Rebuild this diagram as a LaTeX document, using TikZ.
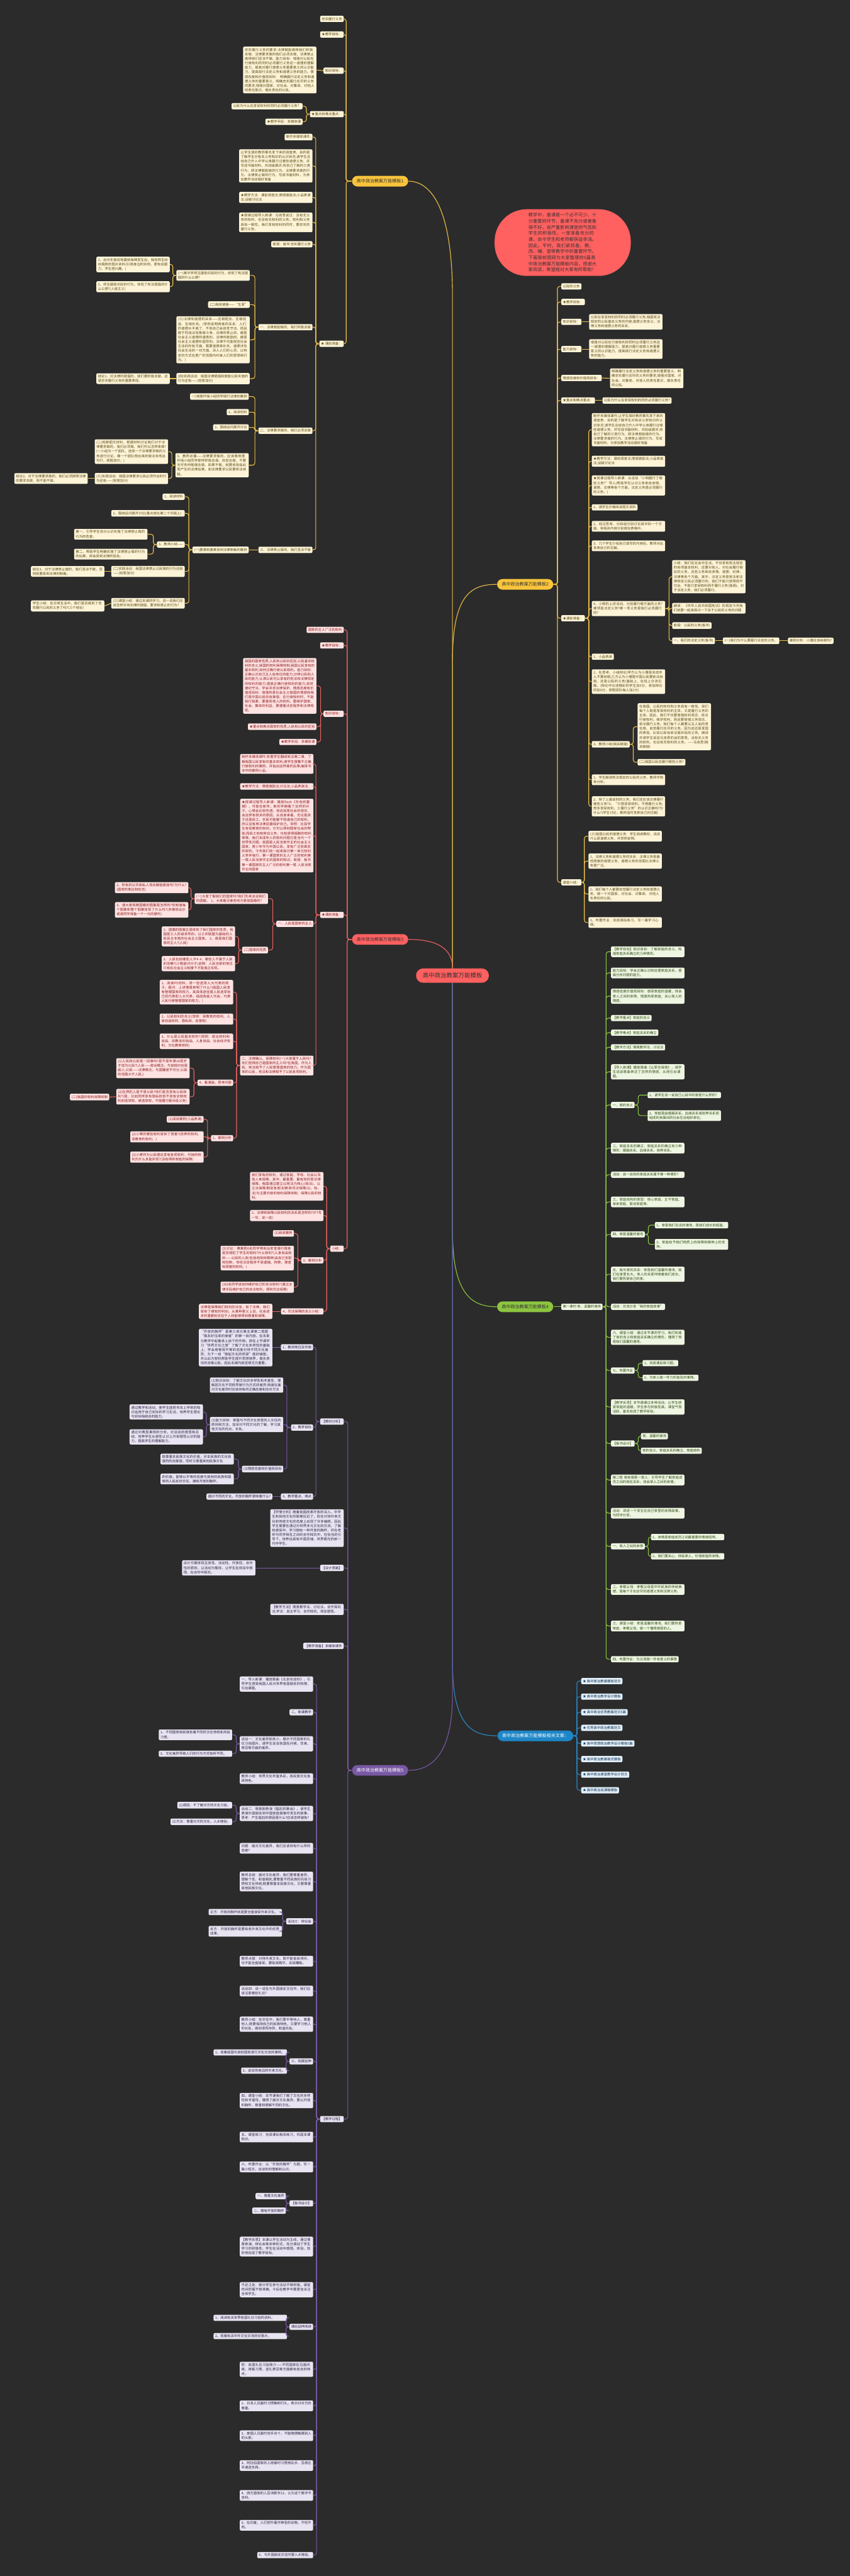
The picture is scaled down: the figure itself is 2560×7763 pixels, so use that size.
\documentclass[tikz,border=0pt]{standalone}
\usepackage{fontspec}
\setmainfont{Noto Sans CJK SC}
\XeTeXlinebreaklocale "zh"
\XeTeXlinebreakskip=0pt plus 0.5pt
\usetikzlibrary{positioning}
\definecolor{bg}{HTML}{2B2B2B}
\definecolor{ylm}{HTML}{F8C43C}\definecolor{ylf}{HTML}{FDF4D8}\definecolor{ylt}{HTML}{5A4712}\definecolor{yline}{HTML}{E9BE45}
\definecolor{rdm}{HTML}{FF6060}\definecolor{rdf}{HTML}{FFE3E3}\definecolor{rdt}{HTML}{8A1C1C}\definecolor{rline}{HTML}{EC6161}
\definecolor{gnm}{HTML}{8CC540}\definecolor{gnf}{HTML}{EEF5E2}\definecolor{gnt}{HTML}{2F4A12}\definecolor{gline}{HTML}{8CC540}
\definecolor{ppm}{HTML}{7858A4}\definecolor{ppf}{HTML}{E8E4F1}\definecolor{ppt}{HTML}{2E2244}\definecolor{pline}{HTML}{7A5AA6}
\definecolor{blm}{HTML}{1D86C7}\definecolor{blf}{HTML}{E2EFF9}\definecolor{blt}{HTML}{12324F}\definecolor{bline}{HTML}{2A88C6}
\tikzset{
  leaf/.style={rounded corners=1.1pt, inner xsep=1.4pt, inner ysep=1.3pt, font=\fontsize{2.9}{3.85}\selectfont, align=left},
  wide/.style={text width=2.11cm},
  ly/.style={leaf, fill=ylf, text=ylt},
  lr/.style={leaf, fill=rdf, text=rdt},
  lg/.style={leaf, fill=gnf, text=gnt},
  lp/.style={leaf, fill=ppf, text=ppt},
  lb/.style={leaf, fill=blf, text=blt},
  main/.style={rounded corners=0.16cm, minimum height=0.32cm, inner xsep=0.14cm, inner ysep=0pt, font=\fontsize{3.8}{4.5}\selectfont},
  yl/.style={draw=yline, line width=0.6pt, rounded corners=2pt},
  rl/.style={draw=rline, line width=0.6pt, rounded corners=2pt},
  gl/.style={draw=gline, line width=0.6pt, rounded corners=2pt},
  pl/.style={draw=pline, line width=0.6pt, rounded corners=2pt},
  bl/.style={draw=bline, line width=0.6pt, rounded corners=2pt}
}
\begin{document}
\begin{tikzpicture}[x=0.01cm, y=-0.01cm]
  \useasboundingbox (0,0) rectangle (2560,7763);
  \fill[bg] (0,0) rectangle (2560,7763);

  % centre and intro
  \node[rounded corners=0.21cm, minimum height=0.43cm, inner xsep=0.2cm, fill=rdm, text=black!80, font=\fontsize{5.1}{6}\selectfont] (ctr) at (1363,2940) {高中政治教案万能模板};
  \node[rounded corners=0.97cm, minimum height=1.96cm, minimum width=4.1cm, inner xsep=1cm, fill=rdm, text=black!80, font=\fontsize{3.87}{5.2}\selectfont, text width=2.06cm, align=left] (intro) at (1695,731) {教学中，备课是一个必不可少、十分重要的环节，备课不充分或者备得不好，会严重影响课堂的气氛和学生的积极性，一堂准备充分的课，会令学生和老师都获益非浅。因此，平时，我们紧抓备、教、改、辅、查等教学中的重要环节。下面是树图网为大家整理的5篇高中政治教案万能模板内容，感谢大家阅读，希望能对大家有所帮助！};

  % main branches
  \node[main, fill=ylm, text=black!80] (m1) at (1145,546) {高中政治教案万能模板1};
  \node[main, fill=ylm, text=black!80] (m2) at (1582,1761) {高中政治教案万能模板2};
  \node[main, fill=rdm, text=black!80] (m3) at (1145,2831) {高中政治教案万能模板3};
  \node[main, fill=gnm, text=black!80] (m4) at (1582,3938) {高中政治教案万能模板4};
  \node[main, fill=ppm, text=white] (m5) at (1145,5335) {高中政治教案万能模板5};
  \node[main, fill=blm, text=white] (m6) at (1613,5231) {高中政治教案万能模板相关文章：};

  \draw[yl] (ctr.north) -- (1363,900) .. controls (1363,610) and (1290,546) .. (m1.east);
  \draw[yl] (ctr.north) -- (1363,2000) .. controls (1363,1790) and (1420,1761) .. (m2.west);
  \draw[rl] (m3.east) .. controls (1320,2831) and (1363,2860) .. (ctr.north);
  \draw[gl] (ctr.south) -- (1363,3700) .. controls (1363,3900) and (1420,3938) .. (m4.west);
  \draw[bl] (ctr.south) -- (1363,5000) .. controls (1363,5200) and (1420,5231) .. (m6.west);
  \draw[pl] (ctr.south) -- (1363,5100) .. controls (1363,5300) and (1290,5335) .. (m5.east);

  % ---- template 1 (left)
  \node[ly, anchor=east] (a1) at (1036,57) {忠实履行义务};
  \node[ly, anchor=east] (a2) at (1036,104) {★教学目标：};
  \node[ly, anchor=east] (a3) at (1036,213) {知识目标：};
  \node[ly, anchor=east] (a4) at (1036,344) {★重点和难点重点：};
  \node[ly, anchor=east] (a5) at (1036,1036) {★ 课前准备：};
  \foreach \c in {a1,a2,a3,a4,a5} \draw[yl] (m1.west) -- ++(-17,0) |- (\c.east);

  \node[ly, wide, anchor=east] (a3x) at (954,211) {忠实履行义务的要求:法律鼓励做得我们积极去做，法律要求做的我们必须去做，法律禁止做得我们坚决不做。能力目标：增强对公民在行使权利的同时必须履行义务这一道理的理解能力，提高对履行道德义务重要意义的认识能力，提高践行法定义务和道德义务的能力。情感态度和价值观目标： 明确履行法定义务和道德义务的重要意义，明确忠实履行应尽的义务的要求;增强对国家、对社会、对集体、对他人的责任意识，做负责任的公民。};
  \draw[yl] (a3.west) -- (a3x.east);
  \node[ly, anchor=east] (a4x) at (912,320) {公民为什么在享受权利的同时必须履行义务？};
  \node[ly, anchor=east] (a4y) at (912,367) {★教学手段：多媒体课};
  \foreach \c in {a4x,a4y} \draw[yl] (a4.west) -- ++(-10,0) |- (\c.east);

  \node[ly, anchor=east] (a5a) at (942,413) {制作多媒体课件;};
  \node[ly, wide, anchor=east] (a5b) at (942,500) {让学生填好教师事先发下来的调查表，目的是了解学生对有关义务知识的认识状况;请学生总结自己升入中学以来履行过哪些道德义务，并写成书面材料，共班级展评;将自己了解的三类行为，即法律鼓励做的行为、法律要求做的行为、法律禁止做的行为，写成书面材料，为参加教学活动做好准备};
  \node[ly, wide, anchor=east] (a5c) at (942,595) {★教学方法：课前调查法;情感激励法;小品表演法;设疑讨论法};
  \node[ly, wide, anchor=east] (a5d) at (942,670) {★授课过程导入新课：马克思说过：没有无义务的权利，也没有无权利的义务。权利和义务具有一致性。我们享有权利的同时，要忠实的履行义务。};
  \node[ly, anchor=east] (a5e) at (942,736) {新授：板书 忠实履行义务};
  \node[ly, anchor=east] (a5f) at (942,986) {一、法律鼓励做的，我们积极去做};
  \node[ly, anchor=east] (a5g) at (942,1298) {二、法律要求做的，我们必须去做};
  \node[ly, anchor=east] (a5h) at (942,1657) {三、法律禁止做的，我们坚决不做};
  \foreach \c in {a5a,a5b,a5c,a5d,a5e,a5f,a5g,a5h} \draw[yl] (a5.west) -- ++(-10,0) |- (\c.east);

  \node[ly, wide, anchor=east] (f1) at (753,830) {(一)某中学师生援助灾民的行为，体现了宪法提倡的什么公德?};
  \node[ly, anchor=east] (f2) at (753,918) {(二)相关链接——“五爱”};
  \node[ly, wide, anchor=east] (f3) at (753,1024) {(三)法律和道德的关系——互相配合、互相促进、互相补充。(举例说明两者的关系：人们的道德水平高了，不但自己会自觉守法，而且敢于同违法现象做斗争。法律所禁止的，都是社会主义道德所谴责的，法律所鼓励的，都是社会主义道德所倡导的。法律不可能规范社会生活的所有方面，需要道德来补充，道德涉及社会生活的一切方面，深入人们的心灵，以特定的方式在更广的范围内约束人们的思想和行为。)};
  \node[ly, wide, anchor=east] (f4) at (753,1141) {(四)实践活动：我国法律提倡和鼓励公民实施的行为还有——(抢答加分)};
  \foreach \c in {f1,f2,f3,f4} \draw[yl] (a5f.west) -- ++(-10,0) |- (\c.east);
  \node[ly, wide, anchor=east] (f1a) at (512,797) {1、出示东南亚地震和海啸发生后，我校师生纷纷捐款的图片资料(引用身边的实例，更有说服力，学生感兴趣。)};
  \node[ly, wide, anchor=east] (f1b) at (512,864) {2、师生援助灾民的行为，体现了宪法提倡的什么公德?(人道主义)};
  \foreach \c in {f1a,f1b} \draw[yl] (f1.west) -- ++(-10,0) |- (\c.east);
  \node[ly, wide, anchor=east] (f4a) at (512,1141) {结论1、对法律所提倡的，我们要积极去做，这是忠实履行义务的重要表现。};
  \draw[yl] (f4.west) -- (f4a.east);

  \node[ly, anchor=east] (g1) at (750,1195) {一)地理环保小组同学践行法律的案例};
  \node[ly, anchor=east] (g2) at (750,1242) {1、阅读材料};
  \node[ly, anchor=east] (g3) at (750,1288) {2、围绕设问展开讨论};
  \node[ly, wide, anchor=east] (g4) at (750,1402) {3、教师点播——法律要求做的，应该像地理环保小组同学那样积极去做，自觉去做，不要无可奈何勉强去做。如果不做，就要承担由此而产生的法律后果。如法律要求公民要依法纳税。};
  \foreach \c in {g1,g2,g3,g4} \draw[yl] (a5g.west) -- ++(-10,0) |- (\c.east);
  \node[ly, wide, anchor=east] (g4a) at (507,1361) {(二)观察图文材料，根据材料讨论我们对于法律要求做的，我们必须做，我们可以怎样来做?(一小组为一个团队，选择一个法律要求做的义务进行讨论，哪一个团队想出来的做法多而且可行，获胜加分。)};
  \node[ly, wide, anchor=east] (g4b) at (507,1442) {(三)实践活动：我国法律要求公民必须作出的行为还有——(抢答加分)};
  \foreach \c in {g4a,g4b} \draw[yl] (g4.west) -- ++(-10,0) |- (\c.east);
  \node[ly, wide, anchor=east] (g4c) at (265,1442) {结论2、对于法律要求做的，我们必须按照法律的要求去做，而不能不做。};
  \draw[yl] (g4b.west) -- (g4c.east);

  \node[ly, anchor=east] (h1) at (750,1657) {(一)要某和姜某受到法律制裁的案例};
  \draw[yl] (a5h.west) -- (h1.east);
  \node[ly, anchor=east] (h1a) at (557,1497) {1、阅读材料};
  \node[ly, wide, anchor=east] (h1b) at (557,1547) {2、围绕设问展开讨论(重点放在第二个问题上)};
  \node[ly, anchor=east] (h1c) at (557,1641) {3、教师小结——};
  \node[ly, wide, anchor=east] (h1d) at (557,1722) {(二)实践活动：我国法律禁止公民做的行为还有——(抢答加分)};
  \node[ly, wide, anchor=east] (h1e) at (557,1818) {(三)课堂小结：通过本课的学习，说一说我们应该怎样对待法律所提倡、要求和禁止的行为?};
  \foreach \c in {h1a,h1b,h1c,h1d,h1e} \draw[yl] (h1.west) -- ++(-10,0) |- (\c.east);
  \node[ly, wide, anchor=east] (h1c1) at (445,1610) {第一，引导学生充分认识实施了法律禁止做的行为的危害。};
  \node[ly, wide, anchor=east] (h1c2) at (445,1670) {第二，帮助学生明确实施了法律禁止做的行为的后果，即会受到法律的惩处。};
  \foreach \c in {h1c1,h1c2} \draw[yl] (h1c.west) -- ++(-10,0) |- (\c.east);
  \node[ly, wide, anchor=east] (h1d1) at (315,1722) {结论3、对于法律禁止做的，我们坚决不做，否则就要受到法律的制裁。};
  \draw[yl] (h1d.west) -- (h1d1.east);
  \node[ly, wide, anchor=east] (h1e1) at (315,1826) {学生小结：在日常生活中，我们是否做到了忠实履行公民的义务了吗?(三个结论)};
  \draw[yl] (h1e.west) -- (h1e1.east);

  % ---- template 2 (right)
  \node[ly, anchor=west] (b1) at (1690,863) {公民的义务};
  \node[ly, anchor=west] (b2) at (1690,910) {★教学目标：};
  \node[ly, anchor=west] (b3) at (1690,970) {知识目标：};
  \node[ly, anchor=west] (b4) at (1690,1052) {能力目标：};
  \node[ly, anchor=west] (b5) at (1690,1139) {情感态度和价值观目标：};
  \node[ly, anchor=west] (b6) at (1690,1207) {★重点和难点重点：};
  \node[ly, anchor=west] (b7) at (1690,1863) {★课前准备：};
  \node[ly, anchor=west] (b8) at (1690,2659) {课堂小结：};
  \foreach \c in {b1,b2,b3,b4,b5,b6,b7,b8} \draw[yl] (m2.east) -- ++(12,0) |- (\c.west);
  \node[ly, wide, anchor=west] (b3x) at (1774,970) {公民在享受权利的同时必须履行义务;我国宪法规定的公民基本义务的内容;道德义务含义，法律义务和道德义务的关系;};
  \node[ly, wide, anchor=west] (b4x) at (1774,1052) {增强对公民在行使权利的同时必须履行义务这一道理的理解能力，提高对履行道德义务重要意义的认识能力，提高践行法定义务和道德义务的能力。};
  \node[ly, wide, anchor=west] (b5x) at (1837,1140) {明确履行法定义务和道德义务的重要意义，明确忠实履行应尽的义务的要求;增强对国家、对社会、对集体、对他人的责任意识，做负责任的公民。};
  \node[ly, anchor=west] (b6x) at (1814,1207) {公民为什么在享受权利的同时必须履行义务?};
  \foreach \p in {b3,b4,b5,b6} \draw[yl] (\p.east) -- (\p x.west);

  \node[ly, wide, anchor=west] (k1) at (1782,1295) {制作多媒体课件;让学生填好教师事先发下来的调查表，目的是了解学生对有关义务知识的认识状况;请学生总结自己升入中学以来履行过哪些道德义务，并写成书面材料，共班级展评;将自己了解的三类行为，即法律鼓励做的行为、法律要求做的行为、法律禁止做的行为，写成书面材料，为参加教学活动做好准备};
  \node[ly, wide, anchor=west] (k2) at (1782,1390) {★教学方法：课前调查法;情感激励法;小品表演法;设疑讨论法};
  \node[ly, wide, anchor=west] (k3) at (1782,1463) {★授课过程导入新课：从活动“小明履行了哪些义务?”导入(帮助学生认识义务来自亲情、道德、法律等各个方面，法定义务是必须履行的义务。)};
  \node[ly, anchor=west] (k4) at (1782,1529) {1、请学生仔细阅读图文资料};
  \node[ly, wide, anchor=west] (k5) at (1782,1586) {2、经过思考，分四组分别讨论其中的一个方面，将相关内容分别填在表格中。};
  \node[ly, wide, anchor=west] (k6) at (1782,1645) {3、几个学生介绍自己填写的内容后，教师对此发表自己的见解。};
  \node[ly, wide, anchor=west] (k7) at (1782,1834) {4、小明的上述活动，分别履行哪方面的义务?哪项是法定义务?哪一项义务是我们必须履行的?};
  \node[ly, anchor=west] (k8) at (1782,1979) {1、小品表演};
  \node[ly, wide, anchor=west] (k9) at (1782,2054) {2、在思考，小组辩论(甲方认为小珊是未成年人不要纳税;乙方认为小珊是中国公民要依法纳税，这是公民的义务)基础上，在班上交流见解。(辩论中论述精彩的学生加5分，参加辩论的加3分，获胜团队每人加1分)};
  \node[ly, anchor=west] (k10) at (1782,2243) {3、教师小结(相关链接)};
  \node[ly, wide, anchor=west] (k11) at (1782,2350) {1、学生朗读宪法规定的公民的义务，教师作简单分析。};
  \node[ly, wide, anchor=west] (k12) at (1782,2430) {2、除了上面谈到的义务，我们还应该法律履行哪些义务?3、“只想享受权利，不想履行义务;想多享受权利，少履行义务”的认识正确吗?为什么?(学生讨论，教师适时发表自己的见解)};
  \foreach \c in {k1,k2,k3,k4,k5,k6,k7,k8,k9,k10,k11,k12} \draw[yl] (b7.east) -- ++(11,0) |- (\c.west);

  \node[ly, wide, anchor=west] (k7a) at (2024,1738) {小结：我们在社会中生活，不仅享有宪法规定的各项基本权利，还要对他人、对社会履行相应的义务。这些义务来自亲情、道德、纪律、法律等各个方面。其中，法定义务是宪法和法律规定公民必须履行的。我们不能只获得而不付出，不能只享受权利而不履行义务(强调)。对于法定义务，我们必须履行。};
  \node[ly, wide, anchor=west] (k7b) at (2024,1833) {朗读：《中华人民共和国宪法》的规定今天我们就要一起来探讨一下关于公民的义务的问题};
  \node[ly, anchor=west] (k7c) at (2024,1885) {新授：公民的义务(板书)};
  \node[ly, anchor=west] (k7d) at (2024,1931) {一、我们的法定义务(板书)};
  \foreach \c in {k7a,k7b,k7c,k7d} \draw[yl] (k7.east) -- ++(11,0) |- (\c.west);
  \node[ly, anchor=west] (k7e) at (2177,1931) {(一)我们为什么要履行法定的义务。};
  \node[ly, anchor=west] (k7f) at (2373,1931) {案例分析：小珊应该纳税吗?};
  \draw[yl] (k7d.east) -- (k7e.west);
  \draw[yl] (k7e.east) -- (k7f.west);

  \node[ly, wide, anchor=west] (k10a) at (1920,2190) {在我国，公民的权利和义务具有一致性。我们每个人既是享受权利的主体，又是履行义务的主体。因此，我们不仅要增强权利观念，依法行使权利，维护权利，而且要增强义务观念，依法履行义务。我们每个人都要以主人翁的责任感，自觉履行应尽的义务。因为这还是爱国的表现。比如公民有依法服兵役的义务。朗读并请学生说说马克思的话的意思。没有无义务的权利，也没有无权利的义务。——马克思(相关链接)};
  \node[ly, anchor=west] (k10b) at (1920,2297) {(二)我国公民应履行哪些义务?};
  \foreach \c in {k10a,k10b} \draw[yl] (k10.east) -- ++(10,0) |- (\c.west);

  \node[ly, wide, anchor=west] (b8a) at (1772,2520) {(三)我国公民的道德义务：学生阅读教材，说说什么是道德义务，并举例说明。};
  \node[ly, wide, anchor=west] (b8b) at (1772,2595) {1、法律义务和道德义务的关系：法律义务是最低限度的道德义务，道德义务的范围比法律义务更广泛。};
  \node[ly, wide, anchor=west] (b8c) at (1772,2694) {2、我们每个人都要自觉履行法定义务和道德义务，做一个对国家、对社会、对集体、对他人负责任的公民。};
  \node[ly, wide, anchor=west] (b8d) at (1772,2780) {3、布置作业：完成课后练习，写一篇学习心得。};
  \foreach \c in {b8a,b8b,b8c,b8d} \draw[yl] (b8.east) -- ++(8,0) |- (\c.west);

  % ---- template 3 (left)
  \node[lr, anchor=east] (c1) at (1036,1898) {国家的主人广泛的权利};
  \node[lr, anchor=east] (c2) at (1036,1945) {★教学目标：};
  \node[lr, anchor=east] (c3) at (1036,2151) {知识目标：};
  \node[lr, anchor=east] (c4) at (1036,2757) {★课前准备：};
  \node[lr, anchor=east] (c5) at (1036,3763) {小结：};
  \foreach \c in {c1,c2,c3,c4,c5} \draw[rl] (m3.west) -- ++(-14,0) |- (\c.east);

  \node[lr, wide, anchor=east] (c3a) at (954,2067) {我国的国家性质;人民和公民的区别;公民基本权利的含义;我国的权利保障体制;我国公民享有的基本权利;如何正确行使公民权利。能力目标：正确认识自己主人翁地位的能力;分辨公民和人民的能力;认清公民可以享有的宪法和法律规定的权利的能力;提高正确行使权利的能力;自觉遵纪守法，学会寻求法律保护。情感态度和价值观目标：增强热爱社会主义祖国的情感和我们是中国公民的自豪感。在行使权利时，不能我行我素，要重视他人的权利，要维护国家、社会、集体的利益，要遵循法定程序和法律规定。};
  \node[lr, anchor=east] (c3b) at (954,2190) {★重点和难点国家的性质;人民和公民的区别};
  \node[lr, anchor=east] (c3c) at (954,2236) {★教学手段：多媒体课};
  \foreach \c in {c3a,c3b,c3c} \draw[rl] (c3.west) -- ++(-8,0) |- (\c.east);

  \node[lr, wide, anchor=east] (c4a) at (945,2302) {制作多媒体课件;布置学生翻阅宪法第二章，了解我国公民享有的基本权利;请学生搜集不正确行使权利的案例，并指出这样做的后果;编排书本中的案例小品。};
  \node[lr, wide, anchor=east] (c4b) at (945,2370) {★教学方法：情感激励法;讨论法;小品表演法;};
  \node[lr, wide, anchor=east] (c4c) at (945,2518) {★授课过程导入新课：播放flash《灰色的震撼》，可能在新年，新的学期看了这样的片子，心情会比较伤感，但这就是社会的现实，会这样有很多的原因，从自身来看，无论是孩子还是民工、农民可能都不知道自己的权利，所以没有用法律武器保护自己。举例：比如学生有受教育的权利，它可以得到国家社会的帮助;而民工他有劳动义务，也有获得报酬的权利等等。我们未成年人的权利问题已是当代一个世界性问题。我国是人民当家作主的社会主义国家，青少年作为中国公民，享有广泛而真实的权利。今天我们就一起来探讨第一单元权利义务伴我行，第一课国家的主人广泛的权利第一框人民当家作主的国家的知识。新授：板书第一课国家的主人广泛的权利第一框 人民当家作主的国家};
  \node[lr, anchor=east] (c4d) at (945,2784) {一、人民是国家的主人};
  \node[lr, wide, anchor=east] (c4e) at (945,3211) {二、法律确认、保障权利(一)大家属于人民吗?你们觉得自己是国家的主人吗?在我国，作为人民，宪法赋予了人民管理国家的权力。作为国家的公民，宪法和法律赋予了公民各项权利。};
  \foreach \c in {c4a,c4b,c4c,c4d,c4e} \draw[rl] (c4.west) -- ++(-12,0) |- (\c.east);

  \node[lr, wide, anchor=east] (d1) at (808,2708) {(一)大家了解我们的国家吗?我们先来谈谈我们的国徽。 1、大家看见哪些地方悬挂国徽的?};
  \node[lr, anchor=east] (d2) at (808,2863) {(二)国家的性质};
  \foreach \c in {d1,d2} \draw[rl] (c4d.west) -- ++(-10,0) |- (\c.east);
  \node[lr, wide, anchor=east] (d1a) at (568,2675) {2、所有的公共和私人场合都能悬挂吗?为什么?(国家的象征和标志)};
  \node[lr, wide, anchor=east] (d1b) at (568,2742) {3、请大家观察国徽的图案是怎样的?你知道每个图案和整个图案体现了什么吗?(多媒体出示或请同学准备一个一元的硬币)};
  \foreach \c in {d1a,d1b} \draw[rl] (d1.west) -- ++(-10,0) |- (\c.east);
  \node[lr, wide, anchor=east] (d2a) at (709,2822) {1、国徽的图案正是体现了我们国家的性质，我国是工人阶级领导的，以工农联盟为基础的人民民主专政的社会主义国家。 2、谁是我们国家的主人?(人民)};
  \node[lr, wide, anchor=east] (d2b) at (709,2904) {3、人民包括哪些人?P4 4、哪些人不属于人民的范畴?(少数敌对分子)说明：人民当家的地位只有在社会主义制度下才能真正实现。};
  \foreach \c in {d2a,d2b} \draw[rl] (d2.west) -- ++(-10,0) |- (\c.east);

  \node[lr, wide, anchor=east] (e1) at (703,2990) {1、阅读P5材料，举一些选举人大代表的例子。提问：上述情景表明了什么?(我国人民享有管理国家的权力，其具体途径是人民选举自己的代表即人大代表，组成各级人代会，代表人民行使管理国家的权力。)};
  \node[lr, wide, anchor=east] (e2) at (703,3071) {2、公民权利的含义(举例：受教育的权利、人身自由权利、隐私权、名誉权)};
  \node[lr, wide, anchor=east] (e3) at (703,3138) {3、什么是公民基本权利?(举例：政治权利和自由、宗教信仰自由、人身自由、社会经济权利、文化教育权利)};
  \node[lr, anchor=east] (e4) at (703,3263) {4、看漫画，思考问题};
  \node[lr, anchor=east] (e5) at (703,3430) {1、案例分析};
  \foreach \c in {e1,e2,e3,e4,e5} \draw[rl] (c4e.west) -- ++(-10,0) |- (\c.east);
  \node[lr, wide, anchor=east] (e4a) at (572,3219) {(1)人民和公民是一回事吗?是不是年满18周岁才成为公民?(人民——政治概念，与其相对应是敌人;公民——法律概念，与国籍密不可分;公民的范围大于人民;)};
  \node[lr, wide, anchor=east] (e4b) at (572,3305) {(2)在押犯人是不是公民?他们是否享有公民权利?(是，比如同样享有隐私权但不享有全部权利如选举权、被选举权，不能履行服兵役义务)};
  \foreach \c in {e4a,e4b} \draw[rl] (e4.west) -- ++(-10,0) |- (\c.east);
  \node[lr, anchor=east] (e4c) at (330,3306) {(二)我国的权利保障体制};
  \draw[rl] (e4b.west) -- (e4c.east);
  \node[lr, anchor=east] (e5a) at (614,3373) {(1)阅读案例(小品表演)};
  \node[lr, wide, anchor=east] (e5b) at (614,3426) {(2)小寒的哪些权利受到了侵害?(抚养的权利、受教育的权利、)};
  \node[lr, wide, anchor=east] (e5c) at (614,3487) {(3)小寒作为公民理应享有各项权利，可她的权利为什么未能实现?(没有得到家庭的保障)};
  \foreach \c in {e5a,e5b,e5c} \draw[rl] (e5.west) -- ++(-10,0) |- (\c.east);

  \node[lr, wide, anchor=east] (c5a) at (975,3575) {我们享有的权利，通过家庭、学校、社会以及他人来保障。其中，最重要、最有效的是法律保障。我国通过建立以宪法为核心(母法)、以立法保障(制定各部法律)和司法保障(公、检、法)为主要内容的权利保障体制，保障公民的权利。};
  \node[lr, wide, anchor=east] (c5b) at (975,3663) {2、法律和保障公民权利的关系是怎样的?(P7写一写、说一说)};
  \node[lr, anchor=east] (c5c) at (975,3798) {3、案例分析};
  \node[lr, anchor=east] (c5d) at (975,3952) {4、司法保障的含义小结：};
  \foreach \c in {c5a,c5b,c5c,c5d} \draw[rl] (c5.west) -- ++(-10,0) |- (\c.east);
  \node[lr, anchor=east] (c5c1) at (886,3717) {(1)阅读案例};
  \node[lr, wide, anchor=east] (c5c2) at (886,3791) {(2)讨论：傅某把6名同学带到治安室强行搜身是否侵犯了学生的权利?什么权利?(人身自由权利——公民的人身(包括肉体和精神)由自己支配和控制，非经法定程序不受逮捕、拘禁、搜查和侵害的权利。)};
  \node[lr, wide, anchor=east] (c5c3) at (886,3879) {(3)6名同学该如何维护自己的合法权利?(通过法律手段维护自己的合法权利，得到司法保障)};
  \foreach \c in {c5c1,c5c2,c5c3} \draw[rl] (c5c.west) -- ++(-10,0) |- (\c.east);
  \node[lr, wide, anchor=east] (c5d1) at (821,3952) {法律是保障我们权利的法宝，有了法律，我们就有了维权的利剑。从某种意义上说，社会进步的重要标志在于人权能够得到尊重和保障。};
  \draw[rl] (c5d.west) -- (c5d1.east);

  % ---- template 4 (right)
  \node[lg, anchor=west] (n1) at (1690,3938) {第一课时 家，温馨的港湾};
  \draw[gl] (m4.east) -- (n1.west);
  \node[lg, wide, anchor=west] (w1) at (1840,2868) {【教学目标】知识目标：了解家庭的含义，知道家庭关系确立的几种情形。};
  \node[lg, wide, anchor=west] (w2) at (1840,2932) {能力目标：学会正确认识和处理家庭关系，提高分析问题的能力。};
  \node[lg, wide, anchor=west] (w3) at (1840,3002) {情感态度价值观目标：感受家庭的温暖，体会家人之间的亲情，增强热爱家庭、关心家人的情感。};
  \node[lg, anchor=west] (w4) at (1840,3068) {【教学重点】家庭的含义};
  \node[lg, anchor=west] (w5) at (1840,3112) {【教学难点】家庭关系的确立};
  \node[lg, anchor=west] (w6) at (1840,3156) {【教学方法】情境教学法、讨论法};
  \node[lg, wide, anchor=west] (w7) at (1840,3230) {【导入新课】播放歌曲《让爱住我家》，请学生说说歌曲表达了怎样的情感，从而引出课题。};
  \node[lg, anchor=west] (w8) at (1840,3330) {一、家的含义};
  \node[lg, wide, anchor=west] (w9) at (1840,3460) {二、家庭关系的确立：家庭关系的确立有三种情形：婚姻关系、血缘关系、收养关系。};
  \node[lg, wide, anchor=west] (w10) at (1840,3540) {活动：说一说你的家庭关系属于哪一种情形?};
  \node[lg, wide, anchor=west] (w11) at (1840,3622) {三、家庭结构的类型：核心家庭、主干家庭、单亲家庭、联合家庭等。};
  \node[lg, anchor=west] (w12) at (1840,3720) {四、家是温馨的港湾};
  \node[lg, wide, anchor=west] (w13) at (1840,3840) {五、我与家的关系：家是我们温馨的港湾，我们在家里长大，家人的关爱伴随着我们成长。我们要热爱自己的家。};
  \node[lg, anchor=west] (w14) at (1840,3938) {活动：交流分享“我的家庭故事”};
  \node[lg, wide, anchor=west] (w15) at (1840,4030) {六、课堂小结：通过本节课的学习，我们知道了家的含义和家庭关系确立的情形，懂得了家是我们温馨的港湾。};
  \node[lg, anchor=west] (w16) at (1840,4130) {七、布置作业};
  \node[lg, wide, anchor=west] (w17) at (1840,4240) {【教学反思】本节课通过多种活动，让学生感受家庭的温暖，学生参与积极性高，课堂气氛活跃，基本完成了教学目标。};
  \node[lg, anchor=west] (w18) at (1840,4350) {【板书设计】};
  \node[lg, wide, anchor=west] (w19) at (1840,4460) {第二框 相亲相爱一家人：引导学生了解家庭成员之间的相互关系，体会家人之间的亲情。};
  \node[lg, wide, anchor=west] (w20) at (1840,4560) {活动：讲述一个发生在自己家里的亲情故事，与同学分享。};
  \node[lg, anchor=west] (w21) at (1840,4660) {一、家人之间的亲情};
  \node[lg, wide, anchor=west] (w22) at (1840,4790) {二、孝敬父母：孝敬父母是中华民族的传统美德，是每个子女应尽的道德义务和法律义务。};
  \node[lg, wide, anchor=west] (w23) at (1840,4900) {三、课堂小结：家是温馨的港湾，我们要热爱家庭，孝敬父母，做一个懂得感恩的人。};
  \node[lg, anchor=west] (w24) at (1840,5000) {四、布置作业：为父母做一件有意义的事情};
  \foreach \c in {w1,w2,w3,w4,w5,w6,w7,w8,w9,w10,w11,w12,w13,w14,w15,w16,w17,w18,w19,w20,w21,w22,w23,w24} \draw[gl] (n1.east) -- ++(10,0) |- (\c.west);
  \node[lg, wide, anchor=west] (w8a) at (1950,3300) {1、请学生说一说自己心目中的家是什么样的?};
  \node[lg, wide, anchor=west] (w8b) at (1950,3362) {2、家庭是由婚姻关系、血缘关系或收养关系而组成的亲属间的社会生活组织单位。};
  \foreach \c in {w8a,w8b} \draw[gl] (w8.east) -- ++(10,0) |- (\c.west);
  \node[lg, wide, anchor=west] (w12a) at (1972,3692) {1、家是我们生活的港湾，是我们成长的摇篮。};
  \node[lg, wide, anchor=west] (w12b) at (1972,3750) {2、家庭给予我们物质上的保障和精神上的支持。};
  \foreach \c in {w12a,w12b} \draw[gl] (w12.east) -- ++(10,0) |- (\c.west);
  \node[lg, anchor=west] (w16a) at (1935,4108) {1、完成课后练习题。};
  \node[lg, anchor=west] (w16b) at (1935,4152) {2、为家人做一件力所能及的事情。};
  \foreach \c in {w16a,w16b} \draw[gl] (w16.east) -- ++(10,0) |- (\c.west);
  \node[lg, anchor=west] (w18a) at (1930,4328) {家，温馨的港湾};
  \node[lg, anchor=west] (w18b) at (1930,4372) {家的含义、家庭关系的确立、家庭结构};
  \foreach \c in {w18a,w18b} \draw[gl] (w18.east) -- ++(10,0) |- (\c.west);
  \node[lg, wide, anchor=west] (w21a) at (1960,4632) {1、亲情是家庭成员之间最重要的情感纽带。};
  \node[lg, wide, anchor=west] (w21b) at (1960,4690) {2、我们要关心、体贴家人，珍惜家庭的亲情。};
  \foreach \c in {w21a,w21b} \draw[gl] (w21.east) -- ++(10,0) |- (\c.west);

  % ---- template 5 (left)
  \node[lp, anchor=east] (p1) at (1036,4284) {【教材分析】};
  \node[lp, wide, anchor=east] (p2) at (1036,4605) {【学情分析】随着我国改革开放的深入，中学生和其他文化的距离拉近了，但在对待外来文化和传统文化的态度上出现了许多偏颇，因此学生需要在通过对世界多元文化的交流、了解和感受中，学习拥有一种开放的胸怀，并在老师与同学相互之间的合作探究中，在恰当的引导下，培养出具有中国灵魂、世界眼光的新一代中学生。};
  \node[lp, anchor=east] (p3) at (1036,4725) {【设计思路】};
  \node[lp, wide, anchor=east] (p4) at (1036,4850) {【教学方法】情景教学法、讨论法、合作探究法;学法：自主学习、合作探究、体验感悟。};
  \node[lp, anchor=east] (p5) at (1036,4960) {【教学准备】多媒体课件};
  \node[lp, anchor=east] (p6) at (1036,6386) {【教学过程】};
  \foreach \c in {p1,p2,p3,p4,p5,p6} \draw[pl] (m5.west) -- ++(-12,0) |- (\c.east);
  \node[lp, anchor=east] (p1a) at (944,4060) {1、教材地位及作用};
  \node[lp, anchor=east] (p1b) at (944,4302) {2、教学目标};
  \node[lp, anchor=east] (p1c) at (944,4510) {3、教学重点、难点};
  \foreach \c in {p1a,p1b,p1c} \draw[pl] (p1.west) -- ++(-12,0) |- (\c.east);
  \node[lp, wide, anchor=east] (p1a1) at (821,4061) {“开放的胸怀”是第三单元第五课第二框题“做友好往来的使者”的第一目内容，在本单元教学中起着承上启下的作用，即在上节课学习“世界文化之旅”了解了文化多样性的基础上，学会用客观平等的态度对待不同文化差异，为下一目“搭起文化的桥梁”做好铺垫，并以此为契机帮助学生提升思想境界，做负责任的合格公民。因此本课内容显得尤为重要。};
  \draw[pl] (p1a.west) -- (p1a1.east);
  \node[lp, wide, anchor=east] (q1) at (854,4174) {(1)知识目标：了解文化的多样性和丰富性，理解因文化不同而导致行为方式的差异;知道在面对文化差异时应该持有的正确态度和应对方法};
  \node[lp, wide, anchor=east] (q2) at (854,4293) {(2)能力目标：掌握与不同文化背景的人交往的原则和方法，加深对不同文化的了解，学习其他文化的优点、长处。};
  \node[lp, anchor=east] (q3) at (854,4427) {(3)情感态度和价值观目标};
  \foreach \c in {q1,q2,q3} \draw[pl] (p1b.west) -- ++(-12,0) |- (\c.east);
  \node[lp, wide, anchor=east] (q2a) at (612,4255) {通过教学和活动，使学生能把书本上学到的知识运用于自己实际的学习生活，培养学生理论与实际相结合的能力。};
  \node[lp, wide, anchor=east] (q2b) at (612,4330) {通过对典型事例的分析，对活动的感悟和总结，培养学生从感性认识上升到理性认识的能力，提高学生的理解能力。};
  \foreach \c in {q2a,q2b} \draw[pl] (q2.west) -- ++(-10,0) |- (\c.east);
  \node[lp, wide, anchor=east] (q3a) at (705,4397) {既尊重本民族文化的价值，对本民族的文化有强烈的自豪感，同时又尊重其他民族文化};
  \node[lp, wide, anchor=east] (q3b) at (705,4457) {的价值，能够以平等的态度与其他的民族和国家的人民友好交往，拥有开放的胸怀。};
  \foreach \c in {q3a,q3b} \draw[pl] (q3.west) -- ++(-10,0) |- (\c.east);
  \node[lp, anchor=east] (p1c1) at (821,4510) {面对不同的文化，开放的胸怀意味着什么?};
  \draw[pl] (p1c.west) -- (p1c1.east);
  \node[lp, wide, anchor=east] (p3a) at (770,4725) {设计方案体现主体性、活动性、开放性、合作性的原则，以活动为载体，让学生在体验中感悟，在合作中探究。};
  \draw[pl] (p3.west) -- (p3a.east);

  \node[lp, wide, anchor=east] (v1) at (944,5075) {一、导入新课：播放歌曲《北京欢迎你》，引导学生感受我国人民对世界各国朋友的热情，引出课题。};
  \node[lp, anchor=east] (v2) at (944,5160) {二、新课教学};
  \node[lp, wide, anchor=east] (v3) at (944,5255) {活动一：文化差异知多少。展示不同国家的礼仪习俗图片，请学生说说各国在问候、饮食、禁忌等方面的差异。};
  \node[lp, wide, anchor=east] (v4) at (944,5360) {教师小结：世界文化丰富多彩，各民族文化各具特色。};
  \node[lp, wide, anchor=east] (v5) at (944,5465) {活动二：情景剧表演《尴尬的聚会》。请学生表演外国朋友到中国家庭做客时发生的故事，思考：产生尴尬的原因是什么?应该怎样避免?};
  \node[lp, wide, anchor=east] (v6) at (944,5570) {问题：面对文化差异，我们应该持有什么样的态度?};
  \node[lp, wide, anchor=east] (v7) at (944,5670) {教师总结：面对文化差异，我们要尊重差异，理解个性，和谐相处;要尊重不同民族的风俗习惯和文化传统;既要尊重本民族文化，又要尊重其他民族文化。};
  \node[lp, anchor=east] (v8) at (944,5790) {活动三：辩论会};
  \node[lp, wide, anchor=east] (v9) at (944,5910) {教师点拨：对待外来文化，既不能盲目排斥，也不能全盘接受，要取其精华，去其糟粕。};
  \node[lp, wide, anchor=east] (v10) at (944,6000) {活动四：说一说在与外国朋友交往中，我们应该注意哪些礼仪?};
  \node[lp, wide, anchor=east] (v11) at (944,6100) {教师小结：在交往中，我们要平等待人，尊重他人;既要保持自己的民族特色，又要学习他人的长处，做到求同存异，和谐共处。};
  \node[lp, anchor=east] (v12) at (944,6212) {三、拓展延伸};
  \node[lp, wide, anchor=east] (v13) at (944,6330) {四、课堂小结：本节课我们了解了文化的多样性和丰富性，懂得了面对文化差异，要以开放的胸怀，尊重和理解不同的文化。};
  \node[lp, wide, anchor=east] (v14) at (944,6440) {五、课堂练习：完成课后相关练习，巩固本课知识。};
  \node[lp, wide, anchor=east] (v15) at (944,6530) {六、布置作业：以“开放的胸怀”为题，写一篇小短文，谈谈你的理解和认识。};
  \node[lp, anchor=east] (v16) at (944,6640) {【板书设计】};
  \node[lp, wide, anchor=east] (v17) at (944,6770) {【教学反思】本课以学生活动为主线，通过情景表演、辩论会等多种形式，充分调动了学生学习的积极性，学生在活动中感悟、体验，较好地完成了教学目标。};
  \node[lp, wide, anchor=east] (v18) at (944,6900) {不足之处：部分学生参与活动不够积极，课堂时间把握不够准确，今后在教学中要更加关注全体学生。};
  \node[lp, anchor=east] (v19) at (944,7012) {课后延伸阅读};
  \node[lp, wide, anchor=east] (v20) at (944,7140) {附：各国礼仪习俗简介——不同国家在见面问候、用餐习惯、送礼禁忌等方面都有各自的特点。};
  \node[lp, wide, anchor=east] (v21) at (944,7250) {1、日本人见面时习惯鞠躬行礼，表示对对方的尊重。};
  \node[lp, wide, anchor=east] (v22) at (944,7340) {2、泰国人见面时双手合十，不能随便触摸别人的头部。};
  \node[lp, wide, anchor=east] (v23) at (944,7430) {3、阿拉伯国家的人用餐时习惯用右手，忌用左手递送东西。};
  \node[lp, wide, anchor=east] (v24) at (944,7520) {4、西方国家的人忌讳数字13，认为这个数字不吉利。};
  \node[lp, wide, anchor=east] (v25) at (944,7610) {5、在印度，人们把牛看作神圣的动物，不吃牛肉。};
  \node[lp, anchor=east] (v26) at (944,7700) {6、与外国朋友交往时要入乡随俗。};
  \foreach \c in {v1,v2,v3,v4,v5,v6,v7,v8,v9,v10,v11,v12,v13,v14,v15,v16,v17,v18,v19,v20,v21,v22,v23,v24,v25,v26} \draw[pl] (p6.west) -- ++(-10,0) |- (\c.east);
  \node[lp, wide, anchor=east] (v3a) at (700,5228) {1、不同国家和民族有着不同的文化传统和风俗习惯。};
  \node[lp, wide, anchor=east] (v3b) at (700,5285) {2、文化差异导致人们的行为方式有所不同。};
  \foreach \c in {v3a,v3b} \draw[pl] (v3.west) -- ++(-10,0) |- (\c.east);
  \node[lp, anchor=east] (v5a) at (700,5440) {(1)原因：不了解对方的文化习俗。};
  \node[lp, anchor=east] (v5b) at (700,5490) {(2)方法：尊重对方的文化，入乡随俗。};
  \foreach \c in {v5a,v5b} \draw[pl] (v5.west) -- ++(-10,0) |- (\c.east);
  \node[lp, wide, anchor=east] (v8a) at (850,5762) {正方：开放的胸怀就是要全盘接受外来文化。};
  \node[lp, wide, anchor=east] (v8b) at (850,5820) {反方：开放的胸怀是要吸收外来文化中的优秀成果。};
  \foreach \c in {v8a,v8b} \draw[pl] (v8.west) -- ++(-10,0) |- (\c.east);
  \node[lp, wide, anchor=east] (v12a) at (865,6185) {1、收集我国与其他国家进行文化交流的事例。};
  \node[lp, anchor=east] (v12b) at (865,6240) {2、说说你身边的外来文化。};
  \foreach \c in {v12a,v12b} \draw[pl] (v12.west) -- ++(-10,0) |- (\c.east);
  \node[lp, anchor=east] (v16a) at (862,6618) {一、尊重文化差异};
  \node[lp, anchor=east] (v16b) at (862,6662) {二、拥有开放的胸怀};
  \foreach \c in {v16a,v16b} \draw[pl] (v16.west) -- ++(-10,0) |- (\c.east);
  \node[lp, wide, anchor=east] (v19a) at (865,6985) {1、阅读有关世界各国礼仪习俗的资料。};
  \node[lp, wide, anchor=east] (v19b) at (865,7040) {2、观看有关中外文化交流的纪录片。};
  \foreach \c in {v19a,v19b} \draw[pl] (v19.west) -- ++(-10,0) |- (\c.east);

  % ---- related articles (right)
  \node[lb, anchor=west] (r1) at (1750,5066) {★ 高中政治教案模板范文};
  \node[lb, anchor=west] (r2) at (1750,5113) {★ 高中政治教学设计模板};
  \node[lb, anchor=west] (r3) at (1750,5160) {★ 高中政治优秀教案范文5篇};
  \node[lb, anchor=west] (r4) at (1750,5207) {★ 优秀高中政治教案范文};
  \node[lb, anchor=west] (r5) at (1750,5254) {★ 高中思想政治教学设计模板5篇};
  \node[lb, anchor=west] (r6) at (1750,5301) {★ 高中政治教案格式模板};
  \node[lb, anchor=west] (r7) at (1750,5348) {★ 高中政治课堂教学设计范文};
  \node[lb, anchor=west] (r8) at (1750,5395) {★ 高中政治说课稿模板};
  \foreach \c in {r1,r2,r3,r4,r5,r6,r7,r8} \draw[bl] (m6.east) -- ++(10,0) |- (\c.west);
\end{tikzpicture}
\end{document}
